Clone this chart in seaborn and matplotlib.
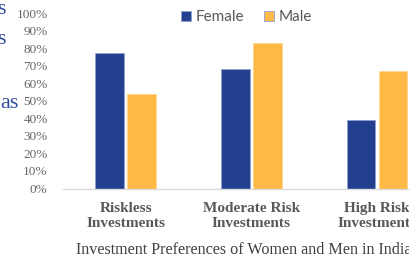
import pandas as pd
import seaborn as sns
import matplotlib.pyplot as plt
from matplotlib.ticker import MultipleLocator, PercentFormatter

sns.set_theme(style="white")

# === Data ===
categories = ["Riskless\nInvestments", "Moderate Risk\nInvestments", "High Risk\nInvestments"]
female = [77, 68, 39]
male = [54, 83, 67]
groups = ["Female", "Male"]
palette = {"Female": "#23408E", "Male": "#FFB946"}

df = pd.DataFrame({
    "Category": categories * 2,
    "Share": female + male,
    "Gender": ["Female"] * len(categories) + ["Male"] * len(categories),
})

# === Figure ===
fig = plt.figure(figsize=(4.10, 2.57), dpi=100)
ax = fig.add_axes([63 / 410, 68.5 / 257, 376.8 / 410, 175.5 / 257])

sns.barplot(
    data=df, x="Category", y="Share", hue="Gender", hue_order=groups,
    palette=palette, width=0.51, gap=0.1, saturation=1,
    edgecolor="#8EA0D0", linewidth=0.6, ax=ax
)
for bar, g in zip(ax.patches, ["Female"] * 3 + ["Male"] * 3):
    if g == "Male":
        bar.set_edgecolor("#FFD78F")

ax.set_ylim(0, 100)
ax.yaxis.set_major_locator(MultipleLocator(10))
ax.yaxis.set_major_formatter(PercentFormatter(decimals=0))
ax.set_xlabel("")
ax.set_ylabel("")

for s in ["top", "right", "left"]:
    ax.spines[s].set_visible(False)
ax.spines["bottom"].set_color("#D9D9D9")
ax.spines["bottom"].set_linewidth(1.0)

ax.tick_params(axis="y", length=0, pad=11, labelsize=9.5, labelcolor="#666666")
ax.tick_params(axis="x", length=0, pad=9.5, labelsize=11, labelcolor="#595959")
for lab in ax.get_yticklabels():
    lab.set_fontfamily("Liberation Serif")
for lab in ax.get_xticklabels():
    lab.set_fontfamily("Liberation Serif")
    lab.set_fontweight("bold")
    lab.set_linespacing(1.25)

leg = ax.legend(
    loc="center", bbox_to_anchor=(0.488, 0.977), ncol=2, frameon=False,
    handlelength=0.65, handleheight=0.65, handletextpad=0.3, columnspacing=1.3,
    prop={"family": "Lato", "size": 11}
)
for t in leg.get_texts():
    t.set_color("#595959")

fig.text(244 / 410, 1 - 250 / 257, "Investment Preferences of Women and Men in India",
         ha="center", va="center", fontsize=11.6, color="#404040",
         family="Liberation Serif")

# fragments of neighbouring slide text at the left edge
for x, y, s in [(-3, 9, "s"), (-3, 40, "s"), (0, 103, "as")]:
    fig.text(x / 410, 1 - y / 257, s, ha="left", va="center", fontsize=16,
             color="#2F4C9E", family="Liberation Serif")

plt.savefig("out.png", dpi=100)
